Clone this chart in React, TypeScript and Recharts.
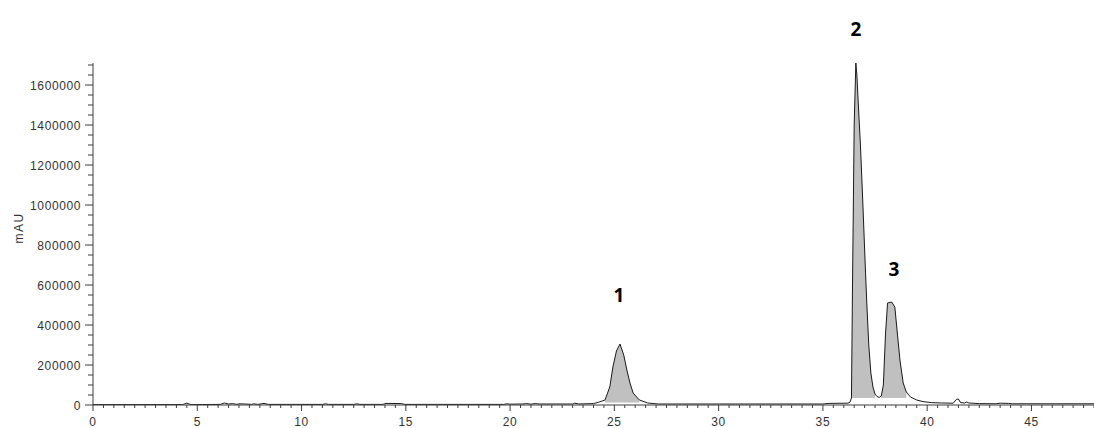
import { Area, ComposedChart, Line, ReferenceDot, XAxis, YAxis } from 'recharts';

// Chromatogram trace: retention time (min) and signal (mAU).
const retentionTimes = [
  0, 4.3, 4.5, 4.7, 6.1, 6.3, 6.5, 6.7, 6.9, 7.0, 7.3, 7.6, 7.7, 7.9, 8.2, 8.4,
  11.0, 11.15, 11.3, 12.5, 12.65, 12.8, 13.9, 14.05, 14.8, 14.95, 19.7, 19.85, 20.0, 20.6, 20.8, 21.0, 21.2, 21.4, 23.0, 23.1, 23.3,
  24.0, 24.25, 24.55, 24.78, 24.93, 25.1, 25.27, 25.45, 25.6, 25.75, 25.9, 26.2, 26.6, 27.1,
  35.0, 35.3, 36.2, 36.3,
  36.37, 36.42, 36.5, 36.58, 36.63, 36.7, 36.8, 36.9, 37.0, 37.1, 37.2, 37.3, 37.4, 37.5, 37.6, 37.7,
  37.8, 37.9, 38.0, 38.1, 38.3, 38.45, 38.55, 38.7, 38.85, 39.0,
  39.2, 39.5, 39.8, 40.2, 40.7, 41.25, 41.4, 41.5, 41.6, 41.8, 41.9, 42.0, 42.5, 43.3, 43.5, 43.9, 44.1, 48,
];
const absorbance = [
  2000, 2000, 9000, 2000, 3000, 10000, 5000, 7000, 3000, 6000, 5000, 3000, 6000, 3000, 8000, 3000,
  3000, 6000, 3000, 3000, 6000, 3000, 3000, 8000, 7000, 3000, 3000, 6000, 4000, 5000, 7000, 4000, 7000, 5000, 5000, 9000, 5000,
  7000, 14000, 25000, 90000, 190000, 270000, 305000, 250000, 175000, 110000, 60000, 25000, 10000, 5000,
  5000, 8000, 9000, 14000,
  35000, 600000, 1400000, 1710000, 1650000, 1500000, 1300000, 1050000, 780000, 520000, 300000, 160000, 90000, 55000, 42000, 38000,
  45000, 100000, 350000, 510000, 515000, 490000, 380000, 220000, 110000, 65000,
  40000, 25000, 17000, 12000, 10000, 9000, 28000, 30000, 12000, 10000, 15000, 10000, 7000, 6000, 9000, 8000, 6000, 6000,
];

// Integrated peaks: label, time range and the integration baseline.
const peakLabels = ['1', '2', '3'];
const peakLabelTimes = [25.22, 36.59, 38.41];
const peakLabelSignals = [550000, 1880000, 680000];
const peakRanges: [number, number][] = [[24.55, 26.2], [36.37, 37.55], [37.8, 39.0]];
const peakBaselines = [12000, 35000, 35000];

const xMajorTicks = [0, 5, 10, 15, 20, 25, 30, 35, 40, 45];
const xMinorStep = 0.5;
const xMax = 48;
const yMajorTicks = [0, 200000, 400000, 600000, 800000, 1000000, 1200000, 1400000, 1600000];
const yMinorStep = 50000;
const yMax = 1710000;

const rows = retentionTimes.map((t, i) => ({ t, mAU: absorbance[i] }));
const xTicks = Array.from({ length: Math.round(xMax / xMinorStep) + 1 }, (_, i) => i * xMinorStep);
const yTicks = Array.from({ length: Math.floor(yMax / yMinorStep) + 1 }, (_, i) => i * yMinorStep);

const AXIS = '#3c3c3c';
const TEXT = '#333333';
const FILL = '#c0c0c0';
const FONT = '"Liberation Sans", Arial, sans-serif';

function XTick({ x, y, payload }: any) {
  const major = xMajorTicks.includes(payload.value);
  return (
    <g>
      <line x1={x} x2={x} y1={y} y2={y + (major ? 6 : 3)} stroke={AXIS} />
      {major && (
        <text x={x} y={y + 21} textAnchor="middle" fontSize={12} letterSpacing={0.6} fill={TEXT} fontFamily={FONT}>
          {payload.value}
        </text>
      )}
    </g>
  );
}

function YTick({ x, y, payload }: any) {
  const major = yMajorTicks.includes(payload.value);
  return (
    <g>
      <line x1={x} x2={x - (major ? 8 : 5)} y1={y} y2={y} stroke={AXIS} />
      {major && (
        <text x={x - 12} y={y + 1} textAnchor="end" dominantBaseline="central" fontSize={12} letterSpacing={0.6} fill={TEXT} fontFamily={FONT}>
          {payload.value}
        </text>
      )}
    </g>
  );
}

export default function App() {
  return (
    <div style={{ position: 'absolute', left: 0, top: 0, width: 1094, height: 428, background: '#fff' }}>
      <ComposedChart width={1094} height={428} data={rows} margin={{ top: 63, right: 0, bottom: 0, left: 0 }}>
        <XAxis
          dataKey="t"
          type="number"
          domain={[0, xMax]}
          ticks={xTicks}
          interval={0}
          height={23}
          stroke={AXIS}
          tickSize={0}
          tickMargin={0}
          tick={<XTick />}
          allowDataOverflow
        />
        <YAxis
          type="number"
          domain={[0, yMax]}
          ticks={yTicks}
          interval={0}
          width={93}
          stroke={AXIS}
          tickSize={0}
          tickMargin={0}
          tick={<YTick />}
          allowDataOverflow
          label={{
            content: () => (
              <text x={23} y={228} transform="rotate(-90 23 228)" textAnchor="middle" fontSize={12} letterSpacing={1.5} fill={TEXT} fontFamily={FONT}>
                mAU
              </text>
            ),
          }}
        />
        {peakRanges.map(([from, to], i) => (
          <Area
            key={`fill-${i}`}
            data={rows.filter((r) => r.t >= from && r.t <= to)}
            dataKey="mAU"
            type="linear"
            baseValue={peakBaselines[i]}
            fill={FILL}
            fillOpacity={1}
            stroke="none"
            isAnimationActive={false}
          />
        ))}
        <Line dataKey="mAU" type="linear" stroke="#1a1a1a" strokeWidth={1} dot={false} isAnimationActive={false} />
        {peakLabels.map((label, i) => (
          <ReferenceDot
            key={label}
            x={peakLabelTimes[i]}
            y={peakLabelSignals[i]}
            r={0}
            fill="none"
            stroke="none"
            ifOverflow="visible"
            label={{ value: label, position: 'center', fontSize: 19, fontWeight: 700, fill: '#000', fontFamily: '"Open Sans", sans-serif' }}
          />
        ))}
      </ComposedChart>
    </div>
  );
}
